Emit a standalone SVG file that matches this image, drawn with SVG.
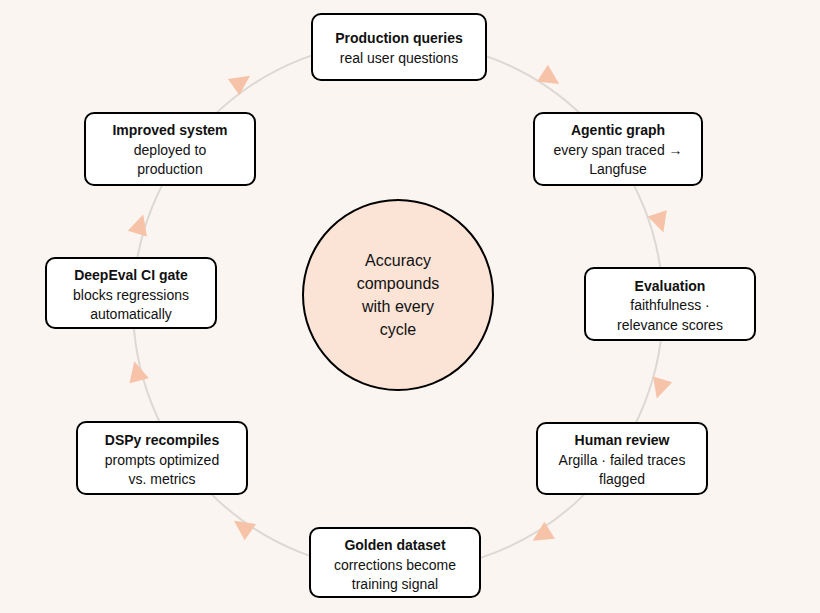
<svg xmlns="http://www.w3.org/2000/svg" width="820" height="613" viewBox="0 0 820 613">
<style>
.n rect{fill:#fff;stroke:#000;stroke-width:2}
text{font-family:"Liberation Sans",Arial,sans-serif;font-size:14px;text-anchor:middle;fill:#111}
.t{font-weight:bold}
.c{font-size:16px}
.a{fill:#f6c3a8}
</style>
<rect width="820" height="613" fill="#faf5f0"/>
<g id="connectors">
<circle cx="398" cy="306" r="265" fill="none" stroke="#dcd8d3" stroke-width="2"/>
<polygon class="a" points="11,0 -9,-10 -9,10" transform="translate(550,78) rotate(33)"/>
<polygon class="a" points="11,0 -9,-10 -9,10" transform="translate(660,222) rotate(72)"/>
<polygon class="a" points="11,0 -9,-10 -9,10" transform="translate(660,388) rotate(107)"/>
<polygon class="a" points="11,0 -9,-10 -9,10" transform="translate(542,535) rotate(148)"/>
<polygon class="a" points="11,0 -9,-10 -9,10" transform="translate(243,527) rotate(215)"/>
<polygon class="a" points="11,0 -9,-10 -9,10" transform="translate(137,372) rotate(256)"/>
<polygon class="a" points="11,0 -9,-10 -9,10" transform="translate(140,225) rotate(-73)"/>
<polygon class="a" points="11,0 -9,-10 -9,10" transform="translate(241,82) rotate(-35)"/>
</g>
<g id="center"><circle cx="398" cy="295" r="95" fill="#fbe3d6" stroke="#000" stroke-width="2"/>
<text class="c" x="398" y="266">Accuracy</text><text class="c" x="398" y="289">compounds</text><text class="c" x="398" y="312">with every</text><text class="c" x="398" y="335">cycle</text></g>
<g id="n1" class="n"><rect x="312" y="14" width="174" height="66" rx="9"/><text class="t" x="399" y="43">Production queries</text><text x="399" y="63">real user questions</text></g>
<g id="n2" class="n"><rect x="534" y="113" width="168" height="72" rx="9"/><text class="t" x="618" y="135">Agentic graph</text><text x="618" y="155">every span traced →</text><text x="618" y="174">Langfuse</text></g>
<g id="n3" class="n"><rect x="585" y="268" width="170" height="72" rx="9"/><text class="t" x="670" y="291">Evaluation</text><text x="670" y="310">faithfulness ·</text><text x="670" y="330">relevance scores</text></g>
<g id="n4" class="n"><rect x="537" y="423" width="170" height="71" rx="9"/><text class="t" x="622" y="445">Human review</text><text x="622" y="465">Argilla · failed traces</text><text x="622" y="484">flagged</text></g>
<g id="n5" class="n"><rect x="310" y="528" width="170" height="69" rx="9"/><text class="t" x="395" y="550">Golden dataset</text><text x="395" y="570">corrections become</text><text x="395" y="589">training signal</text></g>
<g id="n6" class="n"><rect x="77" y="422" width="170" height="72" rx="9"/><text class="t" x="162" y="445">DSPy recompiles</text><text x="162" y="465">prompts optimized</text><text x="162" y="484">vs. metrics</text></g>
<g id="n7" class="n"><rect x="46" y="258" width="170" height="70" rx="9"/><text class="t" x="131" y="280">DeepEval CI gate</text><text x="131" y="300">blocks regressions</text><text x="131" y="319">automatically</text></g>
<g id="n8" class="n"><rect x="85" y="113" width="170" height="72" rx="9"/><text class="t" x="170" y="135">Improved system</text><text x="170" y="155">deployed to</text><text x="170" y="174">production</text></g>
</svg>
